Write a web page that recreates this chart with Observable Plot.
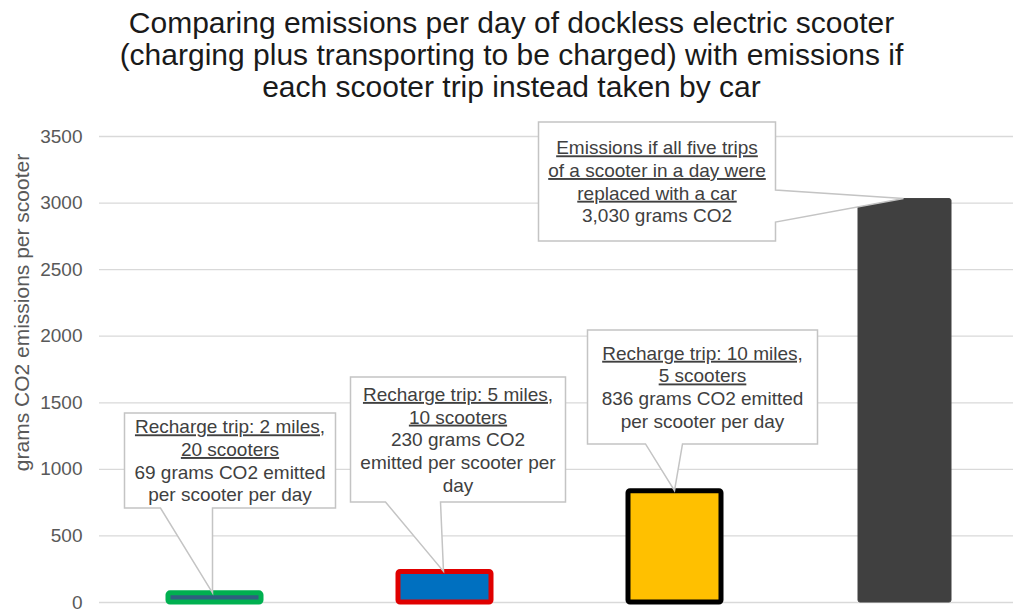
<!DOCTYPE html>
<html><head><meta charset="utf-8">
<script src="https://cdn.jsdelivr.net/npm/d3@7"></script>
<script src="https://cdn.jsdelivr.net/npm/@observablehq/plot@0.6"></script>
<style>
body{margin:0;background:#fff;width:1013px;height:612px;overflow:hidden;font-family:"Liberation Sans",Arial,sans-serif;}
#title{height:110px;box-sizing:border-box;padding-top:7px;padding-left:10px;text-align:center;font-size:30px;line-height:32px;color:#1a1a1a;white-space:nowrap;}
#chart svg{display:block}
</style></head><body>
<div id="title">Comparing emissions per day of dockless electric scooter<br>(charging plus transporting to be charged) with emissions if<br>each scooter trip instead taken by car</div>
<div id="chart"></div>
<script>
// ---- data ----
const categories = ["Recharge trip: 2 miles, 20 scooters", "Recharge trip: 5 miles, 10 scooters", "Recharge trip: 10 miles, 5 scooters", "All five trips replaced with a car"];
const emissions = [69, 230, 836, 3030];
const yTicks = [0, 500, 1000, 1500, 2000, 2500, 3000, 3500];
const yLabel = "grams CO2 emissions per scooter";
const calloutHeadings = [
  ["Recharge trip: 2 miles,", "20 scooters"],
  ["Recharge trip: 5 miles,", "10 scooters"],
  ["Recharge trip: 10 miles,", "5 scooters"],
  ["Emissions if all five trips", "of a scooter in a day were", "replaced with a car"]
];
const calloutDetails = [
  ["69 grams CO2 emitted", "per scooter per day"],
  ["230 grams CO2", "emitted per scooter per", "day"],
  ["836 grams CO2 emitted", "per scooter per day"],
  ["3,030 grams CO2"]
];

// ---- styles / layout (not data) ----
const barFills = ["#2f5f7f", "#0070c0", "#ffc000", "#404040"];
const barStrokes = ["#00b050", "#e00000", "#000000", "#404040"];
const barStrokeWidths = [5, 5, 5, 1];
// horizontal offsets in px from bar centre, vertical bounds in data units (y scale)
const calloutLayout = [
  {left: -90, right: 121, top: 1419, bottom: 706, side: "bottom", p1: -54, p2: -2, apex: -2},
  {left: -94, right: 121, top: 1690, bottom: 751, side: "bottom", p1: -59, p2: -4, apex: -1},
  {left: -87, right: 143, top: 2043, bottom: 1187, side: "bottom", p1: -29, p2: 8, apex: 0},
  {left: -366, right: -129, top: 3605, bottom: 2711, side: "right", p1: 3094, p2: 2854, apex: -1}
];
const lineStep = 22.7;
const fontStack = "'Liberation Sans', Arial, sans-serif";

function callouts(index, scales) {
  const x = scales.x, y = scales.y;
  const bw = x.bandwidth ? x.bandwidth() : 93;
  const g = d3.create("svg:g")
    .attr("font-family", fontStack)
    .attr("font-size", 19)
    .attr("fill", "#404040");
  categories.forEach((c, i) => {
    const L = calloutLayout[i];
    const cx = x(c) + bw / 2;
    const l = cx + L.left, r = cx + L.right;
    const t = y(L.top), b = y(L.bottom);
    const ax = cx + L.apex, ay = y(emissions[i]);
    let path;
    if (L.side === "bottom") {
      path = `M${l},${t}L${r},${t}L${r},${b}L${cx + L.p2},${b}L${ax},${ay}L${cx + L.p1},${b}L${l},${b}Z`;
    } else {
      path = `M${l},${t}L${r},${t}L${r},${y(L.p1)}L${ax},${ay}L${r},${y(L.p2)}L${r},${b}L${l},${b}Z`;
    }
    g.append("path").attr("d", path).attr("fill", "#fff")
      .attr("stroke", "#c4c4c4").attr("stroke-width", 1.5);
    const lines = calloutHeadings[i].map(s => ({s, u: true})).concat(calloutDetails[i].map(s => ({s, u: false})));
    const mid = (t + b) / 2, mx = (l + r) / 2;
    lines.forEach((ln, k) => {
      g.append("text")
        .attr("x", mx)
        .attr("y", mid + (k - (lines.length - 1) / 2) * lineStep)
        .attr("dy", "0.36em")
        .attr("text-anchor", "middle")
        .style("text-decoration", ln.u ? "underline" : null)
        .text(ln.s);
    });
  });
  return g.node();
}

const table = categories.map((c, i) => ({category: c, value: emissions[i]}));

const chart = Plot.plot({
  width: 1013,
  height: 502,
  marginLeft: 99,
  marginRight: 0,
  marginTop: 26,
  marginBottom: 10,
  style: {fontFamily: fontStack, background: "#fff", overflow: "visible"},
  x: {type: "band", domain: categories, range: [99, 1019], paddingInner: 0.596, paddingOuter: 0.298, axis: null},
  y: {domain: [0, 3500], label: null},
  marks: [
    Plot.gridY({ticks: yTicks, stroke: "#d9d9d9", strokeOpacity: 1, strokeWidth: 1.3}),
    Plot.axisY({ticks: yTicks, tickFormat: d => String(d), tickSize: 0, tickPadding: 17, fontSize: 19, color: "#595959", label: null}),
    Plot.text([yLabel], {frameAnchor: "left", text: d => d, rotate: -90, dx: -77, dy: -57, textAnchor: "middle", lineAnchor: "middle", fontSize: 21, fill: "#595959"}),
    Plot.barY(table, {
      x: "category", y: "value",
      fill: (d, i) => barFills[i],
      stroke: (d, i) => barStrokes[i],
      strokeWidth: (d, i) => barStrokeWidths[i],
      strokeLinejoin: "round",
      rx: 2
    }),
    callouts
  ]
});
document.getElementById("chart").appendChild(chart);
</script>
</body></html>
